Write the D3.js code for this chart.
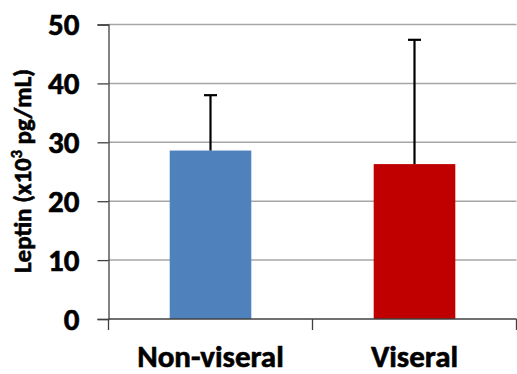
<!DOCTYPE html>
<html>
<head>
<meta charset="utf-8">
<script src="https://cdn.jsdelivr.net/npm/d3@7"></script>
<style>
  body { margin: 0; background: #fff; }
  text { font-family: Carlito, "Liberation Sans", Arial, sans-serif; font-weight: bold; fill: #000;
         stroke: #000; stroke-width: 0.6px; }
</style>
</head>
<body>
<svg id="chart" width="517" height="374"></svg>
<script>
// data
const groups = ["Non-viseral", "Viseral"];
const means = [28.6, 26.3];
const errors = [9.4, 21.1];
const colors = ["#4f81bd", "#c00000"];
const yTicks = [0, 10, 20, 30, 40, 50];

const svg = d3.select("#chart");
const plotLeft = 108.5, plotRight = 516.5, plotTop = 24.5, plotBottom = 319;

const x = d3.scaleBand()
  .domain(groups)
  .range([plotLeft, plotRight])
  .paddingInner(0.6)
  .paddingOuter(0.3);

const y = d3.scaleLinear()
  .domain([0, 50])
  .range([plotBottom, plotTop]);

// horizontal gridlines
svg.append("g")
  .selectAll("line")
  .data(yTicks.filter(d => d > 0))
  .enter()
  .append("line")
  .attr("x1", plotLeft)
  .attr("x2", plotRight)
  .attr("y1", d => y(d))
  .attr("y2", d => y(d))
  .attr("stroke", "#a6a6a6")
  .attr("stroke-width", 1.5);

// y axis
const yAxis = svg.append("g")
  .attr("transform", `translate(${plotLeft},0)`)
  .call(d3.axisLeft(y).tickValues(yTicks).tickSize(11).tickPadding(18));
yAxis.select(".domain").attr("stroke", "#404040").attr("stroke-width", 1.3);
yAxis.selectAll(".tick line").attr("stroke", "#404040").attr("stroke-width", 1.3);
yAxis.selectAll(".tick text")
  .attr("font-size", 31)
  .attr("fill", "#000")
  .attr("dy", "0.33em");

// bars
svg.append("g")
  .selectAll("rect")
  .data(groups)
  .enter()
  .append("rect")
  .attr("x", d => x(d))
  .attr("width", x.bandwidth())
  .attr("y", (d, i) => y(means[i]))
  .attr("height", (d, i) => y(0) - y(means[i]))
  .attr("fill", (d, i) => colors[i]);

// error bars (upper only)
const err = svg.append("g").attr("stroke", "#000").attr("stroke-width", 2.2);
groups.forEach((g, i) => {
  const cx = x(g) + x.bandwidth() / 2;
  err.append("line")
    .attr("x1", cx).attr("x2", cx)
    .attr("y1", y(means[i])).attr("y2", y(means[i] + errors[i]));
  err.append("line")
    .attr("x1", cx - 6.5).attr("x2", cx + 6.5)
    .attr("y1", y(means[i] + errors[i])).attr("y2", y(means[i] + errors[i]));
});

// x axis with category boundary ticks
const xAxis = svg.append("g").attr("transform", `translate(0,${plotBottom})`);
xAxis.append("line")
  .attr("x1", plotLeft).attr("x2", plotRight)
  .attr("stroke", "#404040").attr("stroke-width", 1.3);
const step = x.step();
xAxis.selectAll(".bnd")
  .data(d3.range(groups.length + 1))
  .enter()
  .append("line")
  .attr("x1", d => plotLeft + d * step)
  .attr("x2", d => plotLeft + d * step)
  .attr("y1", 0).attr("y2", 11)
  .attr("stroke", "#404040").attr("stroke-width", 1.3);
xAxis.selectAll("text")
  .data(groups)
  .enter()
  .append("text")
  .attr("x", d => x(d) + x.bandwidth() / 2)
  .attr("y", 48)
  .attr("text-anchor", "middle")
  .attr("font-size", 31)
  .text(d => d);

// y axis title
const title = svg.append("text")
  .attr("transform", "translate(31,171) rotate(-90)")
  .attr("text-anchor", "middle")
  .attr("font-size", 25);
title.append("tspan").text("Leptin (x10");
title.append("tspan").attr("font-size", 16).attr("dy", -9).text("3");
title.append("tspan").attr("dy", 9).text(" pg/mL)");
</script>
</body>
</html>
